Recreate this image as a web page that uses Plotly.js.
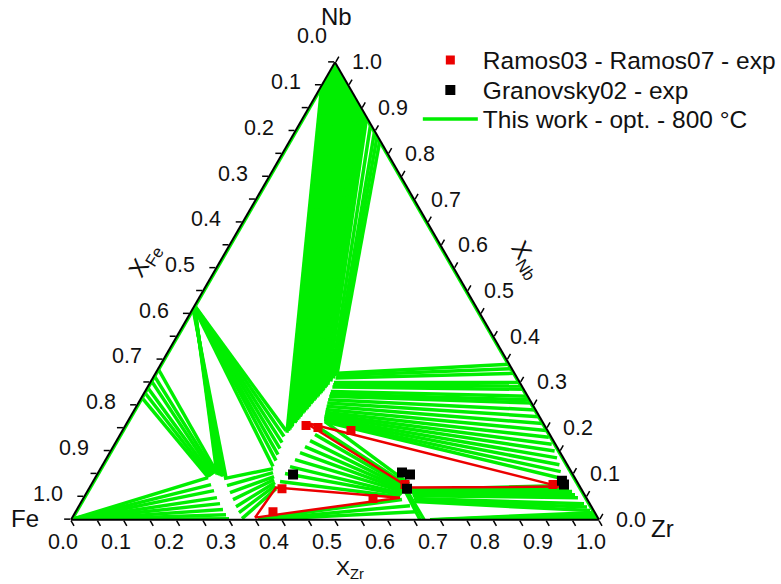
<!DOCTYPE html>
<html><head><meta charset="utf-8">
<script src="https://cdn.plot.ly/plotly-3.0.1.min.js"></script>
<style>html,body{margin:0;padding:0;background:#fff}#chart{width:781px;height:584px}</style>
</head><body><div id="chart"></div>
<script>
// All compositions are mole fractions. Each tie line: [Nb1, Zr1, Nb2, Zr2]; Fe = 1 - Nb - Zr
const fanFeC15 = [[0,0,.092,.2135],[0,0,.0766,.2269],[0,0,.0635,.2391],[0,0,.0481,.2524],[0,0,.035,.2647],[0,0,.0219,.2769],[0,0,.0109,.2881],[0,0,.0022,.2981]];
const fanC14C15 = [[.330,0,.1035,.2242],[.315,0,.1013,.2221],[.304,0,.0985,.2203],[.2895,0,.0963,.2184],[.2786,0,.0941,.2162],[.2676,0,.0926,.2137]];
const fanMuC15 = [[.468,0,.0985,.2273],[.467,0,.0975,.2305],[.466,0,.0963,.2341],[.465,0,.0952,.2375],[.464,0,.0941,.2409],[.462,0,.0919,.2476]];
const fanMuLaves = [[.468,0,.1947,.3098],[.468,0,.1816,.3126],[.467,0,.1685,.3154],[.467,0,.1554,.3181],[.466,0,.1422,.3209],[.466,0,.1291,.3237],[.465,0,.116,.3246]];
const fanC15Laves = [[.0897,.2449,.1116,.3268],[.0744,.2583,.1028,.3312],[.0591,.2716,.0941,.3375],[.0438,.2849,.0875,.3407],[.0284,.2983,.081,.3459],[.0153,.3105,.0744,.3492],[.0022,.3228,.0678,.3544]];
const fanNbLaves = [[.95,0,.19,.314],[.96,0,.194,.315],[.97,0,.197,.316],[.98,0,.201,.316],[.99,0,.204,.317],[1,0,.211,.319],[.995,.005,.214,.319],[.99,.01,.218,.32],[.985,.015,.221,.321],[.98,.02,.225,.322],[.975,.025,.228,.322],[.97,.03,.232,.323],[.965,.035,.235,.324],[.96,.04,.239,.325],[.955,.045,.242,.326],[.95,.05,.246,.327],[.945,.055,.249,.327],[.94,.06,.253,.328],[.935,.065,.256,.329],[.93,.07,.26,.33],[.925,.075,.263,.331],[.92,.08,.267,.332],[.915,.085,.27,.333],[.91,.09,.274,.334],[.905,.095,.277,.335],[.90,.10,.281,.336],[.895,.105,.284,.336],[.89,.11,.288,.337],[.885,.115,.291,.338],[.88,.12,.295,.339],[.865,.135,.302,.341],[.85,.15,.309,.342],[.84,.16,.314,.343],[.83,.17,.3195,.3443]];
const fanLavesBccZr = [[.32,.344,.34,.66],[.315,.345,.33,.67],[.31,.346,.32,.68],[.30,.348,.30,.70],[.295,.349,.292,.708],[.29,.35,.285,.715],[.28,.352,.27,.73],[.275,.353,.262,.738],[.27,.354,.255,.745],[.262,.356,.24,.76],[.255,.358,.225,.774],[.248,.36,.21,.788],[.241,.362,.195,.802],[.235,.364,.18,.815],[.23,.366,.165,.828],[.226,.367,.15,.841],[.222,.369,.135,.853],[.219,.37,.12,.865],[.216,.372,.105,.875],[.214,.374,.09,.885]];
const fanLavesX = [[.2144,.3739,.0788,.6008],[.1991,.372,.0744,.6011],[.186,.3691,.07,.6014],[.1729,.3663,.0678,.6006],[.1597,.3633,.0656,.5998],[.1466,.3604,.0635,.599],[.1313,.3586,.0613,.5982],[.116,.3568,.0569,.5985],[.1007,.355,.0547,.5976],[.0832,.3542,.0503,.5979]];
const fanXBccZr = [[.0656,.6111,.0744,.9003],[.0623,.6137,.0678,.9093],[.0591,.6163,.0613,.9183],[.0558,.6188,.0547,.9272],[.0525,.6214,.0481,.9361],[.046,.6266,.035,.9541],[.0427,.6292,.0274,.9636],[.0394,.6318,.0197,.9732]];
const fanXFeZr2 = [[.0635,.6009,0,.661],[.0591,.6088,0,.6686]];
const fanFeZr2Zr = [[0,.68,.0153,.979],[0,.694,.012,.9826],[0,.7083,.0088,.9861],[0,.7225,.0066,.9891],[0,.7367,.0044,.9921]];
const fanC15X = [[.0022,.3531,.0438,.605],[0,.356,.0306,.6267],[0,.358,.0175,.6446]];
const binaryEdges = [[0,0,1,0],[1,0,0,1]];

const ramosTriNb = [.2123,.07,.0722,.2123,null,.0044,.07,.0481,.0044];
const ramosTriZr = [.3371,.6052,.89,.3371,null,.3463,.3533,.599,.3463];
const ramosNb = [.2057,.2013,.1947,.0175,.0678,.046,.0766,.0766];
const ramosZr = [.3423,.3671,.4329,.3738,.3657,.549,.5943,.8746];
const granNb = [.0985,.1028,.0985,.0678,.0853,.0766];
const granZr = [.3713,.5755,.5928,.6025,.8872,.8954];

const tickVals = [0,.05,.1,.15,.2,.25,.3,.35,.4,.45,.5,.55,.6,.65,.7,.75,.8,.85,.9,.95,1];
const labelVals = [0,.1,.2,.3,.4,.5,.6,.7,.8,.9,1];
const labelText = ['0.0','0.1','0.2','0.3','0.4','0.5','0.6','0.7','0.8','0.9','1.0'];

const GREEN = 'rgb(0,238,0)';
const RED = 'rgb(235,0,0)';
function feOf(n,z){return n===null?null:Math.max(0,1-n-z);}
function tieTrace(lines, extra){
  const a=[],b=[],c=[];
  lines.forEach(([n1,z1,n2,z2])=>{a.push(n1,n2,null);c.push(z1,z2,null);b.push(feOf(n1,z1),feOf(n2,z2),null);});
  return Object.assign({type:'scatterternary',mode:'lines',a,b,c,line:{color:GREEN,width:3.5},showlegend:false,hoverinfo:'skip',connectgaps:false},extra||{});
}
const traces = [
  tieTrace(binaryEdges,{line:{color:GREEN,width:5}}),
  tieTrace(fanFeC15), tieTrace(fanC14C15), tieTrace(fanMuC15), tieTrace(fanMuLaves),
  tieTrace(fanC15Laves), tieTrace(fanNbLaves), tieTrace(fanLavesBccZr), tieTrace(fanLavesX),
  tieTrace(fanXBccZr), tieTrace(fanXFeZr2), tieTrace(fanFeZr2Zr),
  tieTrace(fanC15X,{name:'This work - opt. - 800 °C',showlegend:true,legend:'legend3'}),
  {type:'scatterternary',mode:'lines',a:ramosTriNb,c:ramosTriZr,b:ramosTriNb.map((n,i)=>feOf(n,ramosTriZr[i])),line:{color:RED,width:2.5},showlegend:false,hoverinfo:'skip'},
  {type:'scatterternary',mode:'markers',name:'Ramos03 - Ramos07 - exp',legend:'legend',a:ramosNb,c:ramosZr,b:ramosNb.map((n,i)=>feOf(n,ramosZr[i])),marker:{symbol:'square',size:9,color:RED}},
  {type:'scatterternary',mode:'markers',name:'Granovsky02 - exp',legend:'legend2',a:granNb,c:granZr,b:granNb.map((n,i)=>feOf(n,granZr[i])),marker:{symbol:'square',size:10,color:'#000'}}
];

// ternary frame geometry (paper fractions) used for the domain and for label placement
const W=781,H=584, TRI_W=528, TRI_CX=335, TRI_CY=291;
const TRI_H = TRI_W*Math.sqrt(3)/2;
const feC=[TRI_CX-TRI_W/2, TRI_CY+TRI_H/2], zrC=[TRI_CX+TRI_W/2, TRI_CY+TRI_H/2], nbC=[TRI_CX, TRI_CY-TRI_H/2];
function lerp(p,q,t){return [p[0]+(q[0]-p[0])*t, p[1]+(q[1]-p[1])*t];}
const annotations=[];
function txt(t,px,py,size,extra){annotations.push(Object.assign({text:t,x:px/W,y:1-py/H,xref:'paper',yref:'paper',showarrow:false,xanchor:'center',yanchor:'middle',borderpad:0,font:{size:size,color:'#111'}},extra||{}));}
labelVals.forEach((v,i)=>{
  const L=lerp(nbC,feC,v); txt(labelText[i],L[0]-23,L[1]-26,21.5);   // X_Fe along left edge
  const R=lerp(zrC,nbC,v); txt(labelText[i],R[0]+32,R[1],21.5);      // X_Nb along right edge
  const B=lerp(feC,zrC,v); txt(labelText[i],B[0]-8,B[1]+22,21.5);    // X_Zr along bottom edge
});
txt('Nb',nbC[0]+1,nbC[1]-46,24); txt('Fe',feC[0]-46,feC[1]-1,24); txt('Zr',zrC[0]+63,zrC[1]+9,24);
txt('X<sub>Fe</sub>',145,260,24,{textangle:-58});
txt('X<sub>Nb</sub>',526,259,24,{textangle:58});
txt('X<sub>Zr</sub>',350,583,21,{yanchor:'bottom'});

const axisCommon = {tickmode:'array',tickvals:tickVals,showticklabels:false,ticks:'outside',ticklen:6,tickwidth:1.5,tickcolor:'#000',linecolor:'#000',linewidth:2,showgrid:false,layer:'above traces',title:{text:''}};
const legendBase = {x:0.535,xanchor:'left',yanchor:'middle',font:{size:24.5,color:'#111'},bgcolor:'rgba(0,0,0,0)',itemwidth:55};
const layout = {
  width:W,height:H,margin:{l:0,r:0,t:0,b:0},paper_bgcolor:'#fff',
  font:{family:'Liberation Sans, Arial, sans-serif',color:'#111',size:20},
  ternary:{
    domain:{x:[(TRI_CX-TRI_W/2-10)/W,(TRI_CX+TRI_W/2+10)/W],y:[1-(TRI_CY+TRI_H/2)/H,1-(TRI_CY-TRI_H/2)/H]},sum:1,bgcolor:'rgba(0,0,0,0)',
    aaxis:Object.assign({},axisCommon), baxis:Object.assign({},axisCommon), caxis:Object.assign({},axisCommon)
  },
  legend:Object.assign({y:1-60/H},legendBase),
  legend2:Object.assign({y:1-90/H},legendBase),
  legend3:Object.assign({y:1-119/H},legendBase),
  annotations:annotations
};
Plotly.newPlot('chart',traces,layout,{staticPlot:true});
</script></body></html>
